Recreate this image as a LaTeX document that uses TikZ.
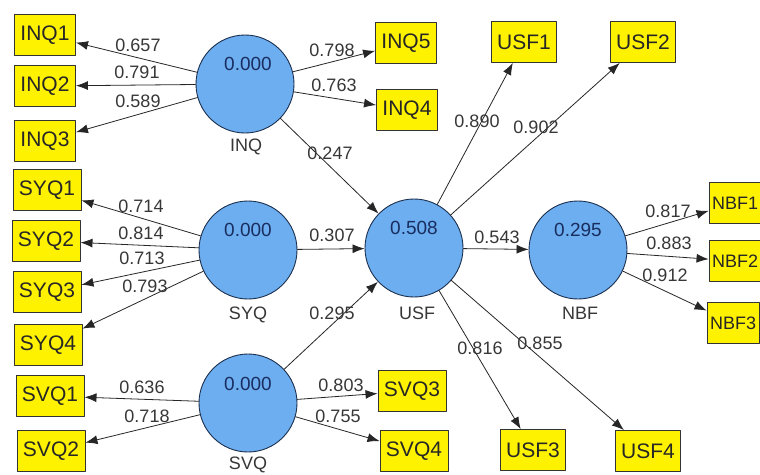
\documentclass[tikz,border=0pt]{standalone}
\usepackage{fontspec}
\setmainfont{Liberation Sans}
\usetikzlibrary{arrows.meta}

\definecolor{lvblue}{RGB}{108,174,240}
\definecolor{lvedge}{RGB}{28,48,78}
\definecolor{valblue}{RGB}{25,45,95}
\definecolor{numgray}{RGB}{55,55,55}

\begin{document}
\begin{tikzpicture}[x=1pt, y=-1pt, line cap=round, line join=round,
    latent/.style={circle, draw=lvedge, fill=lvblue, line width=0.9pt, minimum size=98pt, inner sep=0pt},
    indicator/.style={rectangle, draw=black!80, fill=yellow, line width=0.9pt, minimum height=41pt, inner xsep=6pt, font=\fontsize{21}{21}\selectfont, text=black!85},
    edgebox/.style={indicator, inner xsep=3pt, font=\fontsize{18}{18}\selectfont},
    load/.style={draw=black!85, line width=0.8pt, -{Latex[length=12pt,width=9pt]}},
    coef/.style={font=\fontsize{18}{18}\selectfont, text=numgray, inner sep=0pt},
    rsq/.style={font=\fontsize{19}{19}\selectfont, text=valblue, inner sep=0pt},
    lvname/.style={font=\fontsize{18}{18}\selectfont, text=numgray, inner sep=0pt}]

    \useasboundingbox (0,0) rectangle (760,474);
    \fill[white] (0,0) rectangle (760,474);
    \clip (0,0) rectangle (760,474);

    % latent variables
    \node[latent] (inq) at (245,84) {};
    \node[latent] (syq) at (248,250) {};
    \node[latent] (svq) at (248,403) {};
    \node[latent] (usf) at (414,248) {};
    \node[latent] (nbf) at (578,250) {};

    \node[rsq] at (248,64) {0.000};
    \node[rsq] at (248,230) {0.000};
    \node[rsq] at (248,384) {0.000};
    \node[rsq] at (414,228) {0.508};
    \node[rsq] at (578,230) {0.295};

    \node[lvname] at (246,147) {INQ};
    \node[lvname] at (248,315) {SYQ};
    \node[lvname] at (248,465) {SVQ};
    \node[lvname] at (417,313) {USF};
    \node[lvname] at (580,313) {NBF};

    % indicators
    \node[indicator] (inq1) at (45,35) {INQ1};
    \node[indicator] (inq2) at (45,86) {INQ2};
    \node[indicator] (inq3) at (45,141) {INQ3};
    \node[indicator] (inq5) at (406,43) {INQ5};
    \node[indicator] (inq4) at (407,110) {INQ4};

    \node[indicator] (syq1) at (47,190) {SYQ1};
    \node[indicator] (syq2) at (46,241) {SYQ2};
    \node[indicator] (syq3) at (47,292) {SYQ3};
    \node[indicator] (syq4) at (48,345) {SYQ4};

    \node[indicator] (svq1) at (50,396) {SVQ1};
    \node[indicator] (svq2) at (51,451) {SVQ2};
    \node[indicator] (svq3) at (412,391) {SVQ3};
    \node[indicator] (svq4) at (414,451) {SVQ4};

    \node[indicator] (usf1) at (524,42) {USF1};
    \node[indicator] (usf2) at (643,42) {USF2};
    \node[indicator] (usf3) at (533,450) {USF3};
    \node[indicator] (usf4) at (648,451) {USF4};

    \node[edgebox] (nbf1) at (735,203) {NBF1};
    \node[edgebox] (nbf2) at (735,261) {NBF2};
    \node[edgebox] (nbf3) at (733,323) {NBF3};

    % outer loadings
    \draw[load] (inq) -- (inq1);
    \draw[load] (inq) -- (inq2);
    \draw[load] (inq) -- (inq3);
    \draw[load] (inq) -- (inq5);
    \draw[load] (inq) -- (inq4);
    \draw[load] (syq) -- (syq1);
    \draw[load] (syq) -- (syq2);
    \draw[load] (syq) -- (syq3);
    \draw[load] (syq) -- (syq4);
    \draw[load] (svq) -- (svq1);
    \draw[load] (svq) -- (svq2);
    \draw[load] (svq) -- (svq3);
    \draw[load] (svq) -- (svq4);
    \draw[load] (usf) -- (usf1);
    \draw[load] (usf) -- (usf2);
    \draw[load] (usf) -- (usf3);
    \draw[load] (usf) -- (usf4);
    \draw[load] (nbf) -- (nbf1);
    \draw[load] (nbf) -- (nbf2);
    \draw[load] (nbf) -- (nbf3);

    % inner paths
    \draw[load] (inq) -- (usf);
    \draw[load] (syq) -- (usf);
    \draw[load] (svq) -- (usf);
    \draw[load] (usf) -- (nbf);

    \node[coef] at (138,45) {0.657};
    \node[coef] at (137,72) {0.791};
    \node[coef] at (138,101) {0.589};
    \node[coef] at (332,50) {0.798};
    \node[coef] at (334,85) {0.763};
    \node[coef] at (330,153) {0.247};

    \node[coef] at (141,206) {0.714};
    \node[coef] at (141,233) {0.814};
    \node[coef] at (142,258) {0.713};
    \node[coef] at (145,286) {0.793};
    \node[coef] at (332,235) {0.307};
    \node[coef] at (332,313) {0.295};

    \node[coef] at (142,387) {0.636};
    \node[coef] at (147,416) {0.718};
    \node[coef] at (341,385) {0.803};
    \node[coef] at (338,416) {0.755};

    \node[coef] at (477,121) {0.890};
    \node[coef] at (536,127) {0.902};
    \node[coef] at (497,237) {0.543};
    \node[coef] at (480,348) {0.816};
    \node[coef] at (540,343) {0.855};

    \node[coef] at (668,211) {0.817};
    \node[coef] at (669,243) {0.883};
    \node[coef] at (665,275) {0.912};

\end{tikzpicture}
\end{document}
